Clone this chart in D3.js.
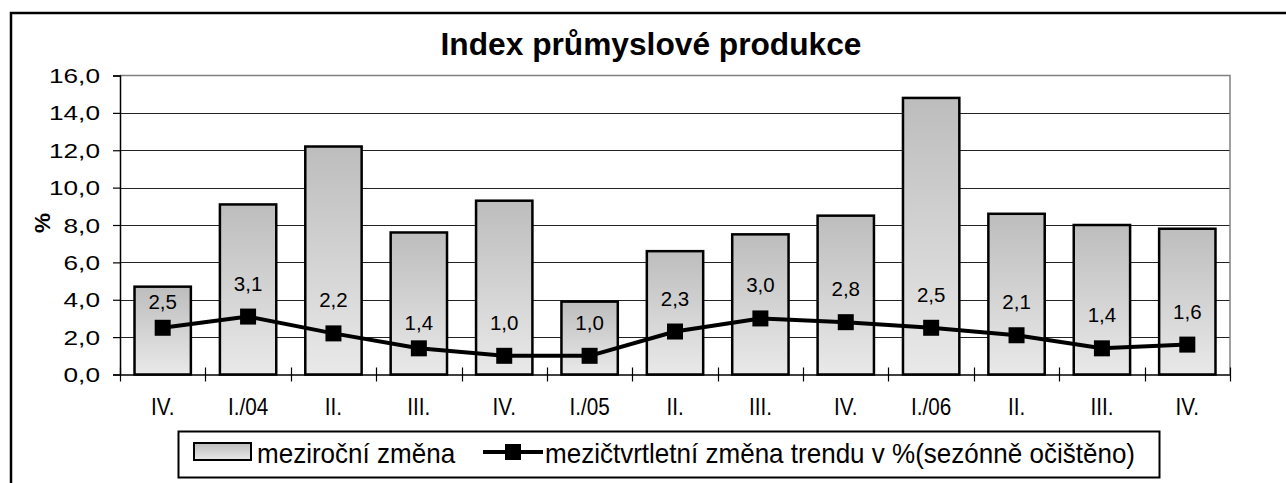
<!DOCTYPE html>
<html>
<head>
<meta charset="utf-8">
<script src="https://cdn.jsdelivr.net/npm/d3@7"></script>
<style>
  body { margin: 0; background: #fff; }
  text { font-family: "Liberation Sans", Arial, sans-serif; fill: #000; }
</style>
</head>
<body>
<script>
// chart data
var quarters = ["IV.", "I./04", "II.", "III.", "IV.", "I./05", "II.", "III.", "IV.", "I./06", "II.", "III.", "IV."];
var yearChange = [4.7, 9.1, 12.2, 7.6, 9.3, 3.9, 6.6, 7.5, 8.5, 14.8, 8.6, 8.0, 7.8];
var trendChange = [2.5, 3.1, 2.2, 1.4, 1.0, 1.0, 2.3, 3.0, 2.8, 2.5, 2.1, 1.4, 1.6];
var yTicks = [0, 2, 4, 6, 8, 10, 12, 14, 16];
var titleText = "Index průmyslové produkce";
var legendNames = ["meziroční změna", "mezičtvrtletní změna trendu v %(sezónně očištěno)"];

var width = 1286;
var height = 483;
var plotLeft = 120, plotRight = 1230, plotTop = 75.5, plotBottom = 374.5;

// labels sit ~26px above the marker, a couple of them were nudged lower in the original
var labelLift = function(i) { return (i === 0 || i === 3) ? 18.5 : 26; };

var fmt = function(v) { return v.toFixed(1).replace(".", ","); };

var svg = d3.select("body").append("svg")
    .attr("width", width)
    .attr("height", height);

// gradient for the bars
var defs = svg.append("defs");
var grad = defs.append("linearGradient")
    .attr("id", "barGrad")
    .attr("x1", 0).attr("y1", 0).attr("x2", 0).attr("y2", 1);
grad.append("stop").attr("offset", "0%").attr("stop-color", "#bdbdbd");
grad.append("stop").attr("offset", "100%").attr("stop-color", "#e9e9e9");

// outer frame (only top and left visible in the picture)
svg.append("rect")
    .attr("x", 11).attr("y", 13)
    .attr("width", 1400).attr("height", 600)
    .attr("fill", "none").attr("stroke", "#000").attr("stroke-width", 2.5);

var x = d3.scaleBand()
    .domain(d3.range(quarters.length))
    .range([plotLeft, plotRight])
    .padding(0);

var y = d3.scaleLinear()
    .domain([0, 16])
    .range([plotBottom, plotTop]);

var barW = x.bandwidth() * 0.66;

// gridlines
svg.append("g").selectAll("line")
    .data(yTicks.filter(function(t) { return t > 0 && t < 16; }))
    .enter().append("line")
    .attr("x1", plotLeft).attr("x2", plotRight)
    .attr("y1", function(d) { return Math.round(y(d)) + 0.5; })
    .attr("y2", function(d) { return Math.round(y(d)) + 0.5; })
    .attr("stroke", "#222").attr("stroke-width", 1.2);

// plot border top + right
svg.append("path")
    .attr("d", "M" + plotLeft + "," + (y(16)) + "H" + plotRight + "V" + plotBottom)
    .attr("fill", "none").attr("stroke", "#808080").attr("stroke-width", 1.5);

// bars
svg.append("g").selectAll("rect")
    .data(yearChange)
    .enter().append("rect")
    .attr("x", function(d, i) { return x(i) + (x.bandwidth() - barW) / 2; })
    .attr("y", function(d) { return y(d); })
    .attr("width", barW)
    .attr("height", function(d) { return y(0) - y(d); })
    .attr("fill", "url(#barGrad)")
    .attr("stroke", "#000").attr("stroke-width", 2.5);

// y axis
var yAxis = d3.axisLeft(y).tickValues(yTicks).tickSize(7).tickFormat("");
var yG = svg.append("g")
    .attr("transform", "translate(" + plotLeft + ",0)")
    .call(yAxis);
yG.select(".domain").attr("stroke", "#000").attr("stroke-width", 1.5);
yG.selectAll(".tick line").attr("stroke", "#000").attr("stroke-width", 1.2);

svg.append("g").selectAll("text")
    .data(yTicks)
    .enter().append("text")
    .attr("transform", function(d) { return "translate(100," + (y(d) + 7.5) + ") scale(1.28,1)"; })
    .attr("text-anchor", "end")
    .attr("font-size", "20.5px")
    .text(function(d) { return fmt(d); });

// x axis with crossing ticks
var xAxis = d3.axisBottom(x).tickSize(0).tickFormat("");
var xG = svg.append("g")
    .attr("transform", "translate(0," + plotBottom + ")")
    .call(xAxis);
xG.select(".domain").attr("stroke", "#000").attr("stroke-width", 1.5);

svg.append("g").selectAll("line")
    .data(d3.range(quarters.length + 1))
    .enter().append("line")
    .attr("x1", function(i) { return Math.round(plotLeft + i * x.step()) + 0.5; })
    .attr("x2", function(i) { return Math.round(plotLeft + i * x.step()) + 0.5; })
    .attr("y1", plotBottom - 7).attr("y2", plotBottom + 7)
    .attr("stroke", "#000").attr("stroke-width", 1.2);

svg.append("g").selectAll("text")
    .data(quarters)
    .enter().append("text")
    .attr("transform", function(d, i) { return "translate(" + (x(i) + x.bandwidth() / 2) + ",415) scale(0.9,1)"; })
    .attr("text-anchor", "middle")
    .attr("font-size", "23px")
    .text(function(d) { return d; });

// trend line
var line = d3.line()
    .x(function(d, i) { return x(i) + x.bandwidth() / 2; })
    .y(function(d) { return y(d); });

svg.append("path")
    .datum(trendChange)
    .attr("d", line)
    .attr("fill", "none")
    .attr("stroke", "#000").attr("stroke-width", 4)
    .attr("stroke-linejoin", "round");

svg.append("g").selectAll("rect")
    .data(trendChange)
    .enter().append("rect")
    .attr("x", function(d, i) { return x(i) + x.bandwidth() / 2 - 8; })
    .attr("y", function(d) { return y(d) - 8; })
    .attr("width", 16).attr("height", 16)
    .attr("fill", "#000");

// data labels
svg.append("g").selectAll("text")
    .data(trendChange)
    .enter().append("text")
    .attr("x", function(d, i) { return x(i) + x.bandwidth() / 2; })
    .attr("y", function(d, i) { return y(d) - labelLift(i); })
    .attr("text-anchor", "middle")
    .attr("font-size", "20.5px")
    .text(function(d) { return fmt(d); });

// title
svg.append("text")
    .attr("x", 651).attr("y", 55)
    .attr("text-anchor", "middle")
    .attr("font-size", "31.7px")
    .attr("font-weight", "bold")
    .text(titleText);

// y label
svg.append("text")
    .attr("transform", "translate(50,223) rotate(-90)")
    .attr("text-anchor", "middle")
    .attr("font-size", "22.5px")
    .attr("font-weight", "bold")
    .text("%");

// legend
var legend = svg.append("g");
legend.append("rect")
    .attr("x", 178.5).attr("y", 431.5)
    .attr("width", 981).attr("height", 46)
    .attr("fill", "#fff").attr("stroke", "#000").attr("stroke-width", 2);

legend.append("rect")
    .attr("x", 194).attr("y", 443)
    .attr("width", 57).attr("height", 17)
    .attr("fill", "url(#barGrad)")
    .attr("stroke", "#000").attr("stroke-width", 2);

legend.append("text")
    .attr("transform", "translate(257,463) scale(0.93,1)")
    .attr("font-size", "28px")
    .text(legendNames[0]);

legend.append("line")
    .attr("x1", 483).attr("x2", 543)
    .attr("y1", 452).attr("y2", 452)
    .attr("stroke", "#000").attr("stroke-width", 4);

legend.append("rect")
    .attr("x", 505).attr("y", 444)
    .attr("width", 16).attr("height", 16)
    .attr("fill", "#000");

legend.append("text")
    .attr("transform", "translate(545,463) scale(0.93,1)")
    .attr("font-size", "28px")
    .text(legendNames[1]);
</script>
</body>
</html>
